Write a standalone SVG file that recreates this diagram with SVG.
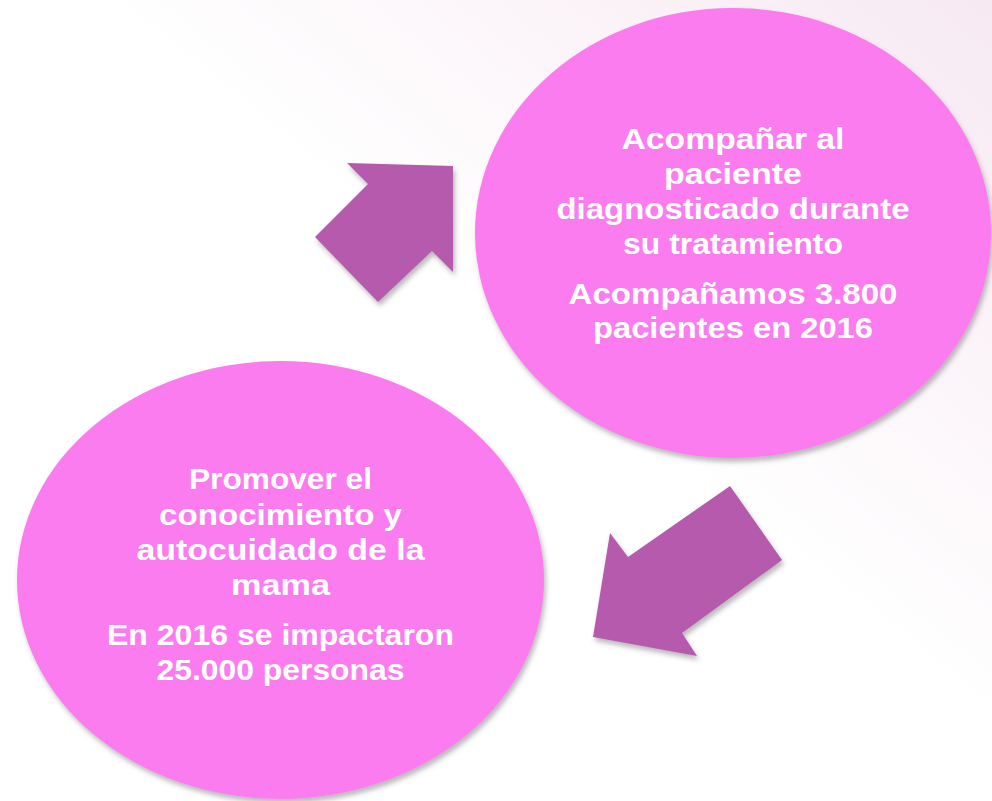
<svg xmlns="http://www.w3.org/2000/svg" width="992" height="801" viewBox="0 0 992 801">
<defs>
<linearGradient id="bg" x1="0" y1="1" x2="1" y2="0">
<stop offset="0" stop-color="#ffffff"/>
<stop offset="0.55" stop-color="#ffffff"/>
<stop offset="1" stop-color="#f7e9f2"/>
</linearGradient>
<filter id="sh" x="-10%" y="-10%" width="125%" height="125%">
<feDropShadow dx="2" dy="4" stdDeviation="2.5" flood-color="#555" flood-opacity="0.4"/>
</filter>
<style>
.circ{fill:#fb7cee;filter:url(#sh)}
.arr{fill:#b65aae;filter:url(#sh)}
.t{font-family:"Liberation Sans",Arial,sans-serif;font-weight:700;font-size:29px;fill:#ffffff;text-anchor:middle}
</style>
</defs>
<rect width="992" height="801" fill="url(#bg)"/>
<g id="connectors">
<polygon class="arr" points="347,163 453,166 453,272 432,251 378,302 315,237 368,184"/>
<polygon class="arr" points="730,486 782,560 682,633 697,656 593,637 610,533 628,557"/>
</g>
<g id="node-top">
<ellipse class="circ" cx="733" cy="233" rx="258" ry="225"/>
<text class="t" x="733" y="149" textLength="223" lengthAdjust="spacingAndGlyphs">Acompañar al</text>
<text class="t" x="733" y="184" textLength="138" lengthAdjust="spacingAndGlyphs">paciente</text>
<text class="t" x="733" y="219" textLength="353" lengthAdjust="spacingAndGlyphs">diagnosticado durante</text>
<text class="t" x="733" y="254" textLength="220" lengthAdjust="spacingAndGlyphs">su tratamiento</text>
<text class="t" x="733" y="304" textLength="329" lengthAdjust="spacingAndGlyphs">Acompañamos 3.800</text>
<text class="t" x="733" y="338" textLength="280" lengthAdjust="spacingAndGlyphs">pacientes en 2016</text>
</g>
<g id="node-bottom">
<ellipse class="circ" cx="280.5" cy="580" rx="263.5" ry="219"/>
<text class="t" x="280.5" y="489" textLength="183" lengthAdjust="spacingAndGlyphs">Promover el</text>
<text class="t" x="280.5" y="525" textLength="243" lengthAdjust="spacingAndGlyphs">conocimiento y</text>
<text class="t" x="280.5" y="560" textLength="288" lengthAdjust="spacingAndGlyphs">autocuidado de la</text>
<text class="t" x="280.5" y="595" textLength="99" lengthAdjust="spacingAndGlyphs">mama</text>
<text class="t" x="280.5" y="645" textLength="347" lengthAdjust="spacingAndGlyphs">En 2016 se impactaron</text>
<text class="t" x="280.5" y="680" textLength="248" lengthAdjust="spacingAndGlyphs">25.000 personas</text>
</g>
</svg>
